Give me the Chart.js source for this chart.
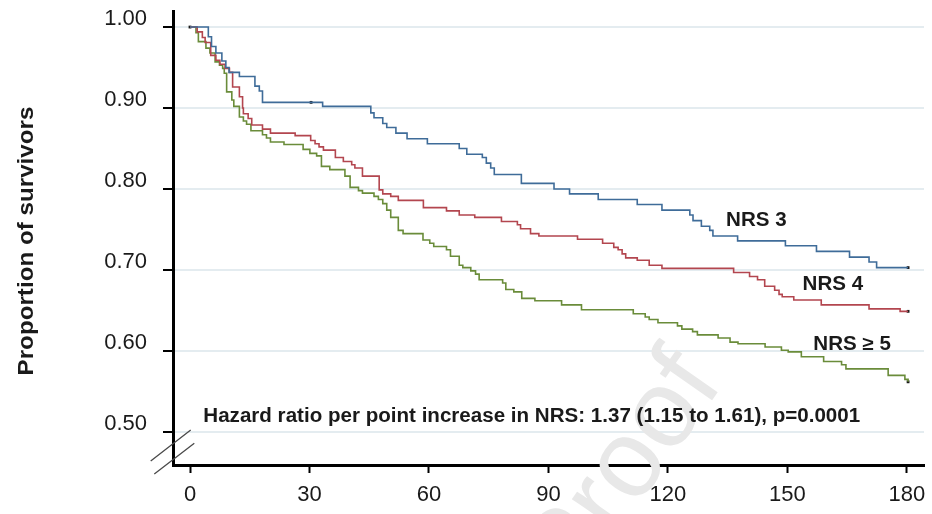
<!DOCTYPE html>
<html>
<head>
<meta charset="utf-8">
<script src="https://cdn.jsdelivr.net/npm/chart.js@4.4.1/dist/chart.umd.min.js"></script>
<style>
  html, body { margin: 0; padding: 0; background: #ffffff; }
  #wrap { width: 932px; height: 514px; }
</style>
</head>
<body>
<div id="wrap"><canvas id="c" width="932" height="514"></canvas></div>
<script>
// ---------- data ----------
const xTickValues = [0, 30, 60, 90, 120, 150, 180];
const yTickValues = [0.50, 0.60, 0.70, 0.80, 0.90, 1.00];

const nrs3Times = [0, 4.6, 5.4, 6.5, 8.0, 9.0, 9.8, 12.4, 16.3, 17.4, 18.2, 33.3, 45.4, 46.2, 48.4, 49.4, 51.7, 54.5, 59.6, 67.6, 69.5, 73.4, 74.4, 75.5, 76.4, 83.2, 91.4, 95.3, 102.5, 112.3, 118.5, 125.5, 126.3, 128.4, 130.5, 131.3, 137.5, 149.5, 157.3, 165.6, 170.5, 172.4, 180.3];
const nrs3Surv  = [1.000, 0.988, 0.976, 0.968, 0.958, 0.950, 0.944, 0.939, 0.927, 0.921, 0.907, 0.902, 0.894, 0.888, 0.881, 0.876, 0.869, 0.862, 0.856, 0.850, 0.843, 0.839, 0.832, 0.826, 0.818, 0.807, 0.800, 0.794, 0.787, 0.781, 0.774, 0.768, 0.761, 0.754, 0.749, 0.742, 0.736, 0.730, 0.723, 0.716, 0.710, 0.703, 0.703];

const nrs4Times = [0, 1.8, 3.1, 3.8, 5.2, 6.5, 7.5, 8.8, 9.9, 10.7, 12.4, 13.2, 13.4, 14.6, 15.5, 18.2, 20.2, 26.4, 30.3, 31.4, 32.4, 33.5, 36.5, 38.5, 40.6, 41.4, 43.3, 47.5, 48.4, 50.4, 52.3, 58.6, 64.4, 67.6, 71.5, 78.2, 82.2, 83.0, 85.5, 87.6, 97.3, 103.6, 106.4, 107.5, 108.5, 109.4, 112.3, 115.3, 118.5, 136.5, 140.5, 142.5, 144.3, 146.8, 147.9, 148.7, 151.6, 158.5, 170.5, 178.3, 180.3];
const nrs4Surv  = [1.000, 0.994, 0.987, 0.981, 0.965, 0.959, 0.954, 0.949, 0.944, 0.926, 0.914, 0.900, 0.893, 0.887, 0.879, 0.874, 0.869, 0.866, 0.860, 0.856, 0.852, 0.848, 0.839, 0.834, 0.830, 0.826, 0.816, 0.799, 0.794, 0.791, 0.786, 0.777, 0.773, 0.768, 0.765, 0.760, 0.756, 0.751, 0.745, 0.742, 0.738, 0.733, 0.728, 0.725, 0.720, 0.715, 0.712, 0.706, 0.702, 0.697, 0.692, 0.688, 0.680, 0.675, 0.670, 0.667, 0.663, 0.657, 0.652, 0.649, 0.649];

const nrs5Times = [0, 1.5, 2.1, 4.0, 5.0, 6.3, 7.4, 8.2, 8.6, 9.2, 10.5, 11.0, 12.4, 13.4, 14.2, 15.3, 18.2, 19.2, 20.2, 23.6, 28.4, 30.1, 31.8, 33.0, 35.1, 38.9, 40.2, 42.3, 43.3, 46.2, 47.3, 48.4, 49.4, 50.4, 52.3, 53.5, 58.5, 60.2, 61.2, 64.4, 65.4, 67.6, 68.5, 70.5, 71.7, 72.6, 78.5, 79.3, 81.3, 83.3, 86.6, 93.3, 98.3, 111.3, 114.3, 115.3, 117.5, 122.4, 123.5, 126.2, 127.4, 132.6, 135.6, 137.6, 144.4, 148.5, 150.2, 153.5, 159.1, 163.6, 164.7, 175.3, 179.5, 180.3];
const nrs5Surv  = [1.000, 0.993, 0.982, 0.974, 0.968, 0.957, 0.953, 0.949, 0.943, 0.920, 0.910, 0.902, 0.889, 0.884, 0.880, 0.872, 0.867, 0.863, 0.858, 0.855, 0.849, 0.844, 0.841, 0.828, 0.824, 0.816, 0.802, 0.798, 0.795, 0.791, 0.787, 0.782, 0.774, 0.765, 0.749, 0.745, 0.737, 0.733, 0.729, 0.725, 0.717, 0.706, 0.703, 0.699, 0.695, 0.688, 0.684, 0.676, 0.673, 0.665, 0.662, 0.657, 0.651, 0.646, 0.642, 0.639, 0.635, 0.631, 0.627, 0.624, 0.620, 0.616, 0.611, 0.609, 0.605, 0.601, 0.599, 0.593, 0.587, 0.583, 0.578, 0.570, 0.565, 0.562];

// censor / end marks
const markTimes = [0, 30.4, 180.3, 180.3, 180.3];
const markSurv  = [1.000, 0.907, 0.703, 0.649, 0.562];

// curve labels (text, time at left edge, survival at baseline)
const curveLabels = ['NRS 3', 'NRS 4', 'NRS \u2265 5'];
const curveLabelX = [134.6, 153.8, 156.5];
const curveLabelY = [0.7547, 0.6753, 0.6012];

const hazardText = 'Hazard ratio per point increase in NRS: 1.37 (1.15 to 1.61), p=0.0001';
const hazardX = 3.34;
const hazardY = 0.5127;

const yTitle = 'Proportion of survivors';
const watermark = 'Proof';

// ---------- styling ----------
const FONT = '"Liberation Sans", Arial, Helvetica, sans-serif';
const BLUE = '#3f6c99';
const RED = '#b3464f';
const GREEN = '#6a8c3a';

function pts(ts, vs) { return ts.map((t, i) => ({ x: t, y: vs[i] })); }

const decor = {
  id: 'decor',
  beforeDraw(chart) {
    const c = chart.ctx;
    c.save();
    c.fillStyle = '#ffffff';
    c.fillRect(0, 0, chart.width, chart.height);
    c.restore();
  },
  beforeDatasetsDraw(chart) {
    // faint watermark
    const c = chart.ctx;
    const xs = chart.scales.x, ys = chart.scales.y;
    c.save();
    c.translate(xs.getPixelForValue(134.1), ys.getPixelForValue(0.5604));
    c.rotate(-55 * Math.PI / 180);
    c.font = '110px ' + FONT;
    c.fillStyle = '#e8e8e8';
    c.textAlign = 'right';
    c.textBaseline = 'alphabetic';
    c.fillText(watermark, 0, 0);
    c.restore();
  },
  afterDatasetsDraw(chart) {
    const c = chart.ctx;
    const xs = chart.scales.x, ys = chart.scales.y;
    const ca = chart.chartArea;
    c.save();
    c.fillStyle = '#1a1a1a';
    c.textAlign = 'left';
    c.textBaseline = 'alphabetic';
    c.font = 'bold 19.5px ' + FONT;
    const sx = 1.055;
    curveLabels.forEach((t, i) => {
      c.save();
      c.translate(xs.getPixelForValue(curveLabelX[i]), ys.getPixelForValue(curveLabelY[i]));
      c.scale(sx, 1);
      c.fillText(t, 0, 0);
      c.restore();
    });
    c.save();
    c.translate(xs.getPixelForValue(hazardX), ys.getPixelForValue(hazardY));
    c.scale(sx, 1);
    c.fillText(hazardText, 0, 0);
    c.restore();

    // y axis title
    c.save();
    c.translate(32.5, (ca.top + ca.bottom) / 2 + 3);
    c.rotate(-Math.PI / 2);
    c.scale(1.1, 1);
    c.font = 'bold 22px ' + FONT;
    c.textAlign = 'center';
    c.fillText(yTitle, 0, 0);
    c.restore();

    // axis break marks
    c.strokeStyle = '#4a4a4a';
    c.lineWidth = 1.3;
    const L = ca.left, B = ca.bottom;
    c.beginPath();
    c.moveTo(L - 22.3, B - 4); c.lineTo(L + 17.7, B - 35);
    c.moveTo(L - 18.7, B + 9); c.lineTo(L + 21.3, B - 21.7);
    c.stroke();
    c.restore();
  }
};

const lineDs = (label, ts, vs, col) => ({
  type: 'line',
  label,
  data: pts(ts, vs),
  stepped: true,
  borderColor: col,
  borderWidth: 1.6,
  pointRadius: 0,
  fill: false,
  tension: 0
});

new Chart(document.getElementById('c'), {
  type: 'line',
  data: {
    datasets: [
      lineDs('NRS 3', nrs3Times, nrs3Surv, BLUE),
      lineDs('NRS 4', nrs4Times, nrs4Surv, RED),
      lineDs('NRS \u2265 5', nrs5Times, nrs5Surv, GREEN),
      {
        type: 'scatter',
        label: 'censored',
        data: pts(markTimes, markSurv),
        pointStyle: 'rect',
        pointRadius: 2,
        backgroundColor: '#1a1a1a',
        borderColor: '#1a1a1a',
        borderWidth: 0
      }
    ]
  },
  options: {
    responsive: false,
    animation: false,
    devicePixelRatio: 1,
    layout: { padding: { top: 11, right: 8, left: 0, bottom: 0 } },
    plugins: { legend: { display: false }, tooltip: { enabled: false } },
    scales: {
      x: {
        type: 'linear',
        min: -4.27,
        max: 184.3,
        afterBuildTicks: s => { s.ticks = xTickValues.map(v => ({ value: v })); },
        afterFit: s => { s.height = 49; s.paddingLeft = 0; s.paddingRight = 0; },
        grid: { drawOnChartArea: false, drawTicks: true, tickLength: 8, tickColor: '#000', tickWidth: 2 },
        border: { color: '#000', width: 3 },
        ticks: { color: '#1a1a1a', font: { family: FONT, size: 22 }, padding: 9, maxRotation: 0, autoSkip: false }
      },
      y: {
        type: 'linear',
        min: 0.4593,
        max: 1.0198,
        afterBuildTicks: s => { s.ticks = yTickValues.map(v => ({ value: v })); },
        afterFit: s => { s.width = 173; s.paddingTop = 0; s.paddingBottom = 0; },
        grid: { color: '#e4ecf0', lineWidth: 2, drawTicks: true, tickLength: 10, tickColor: '#000', tickWidth: 2 },
        border: { color: '#000', width: 3 },
        ticks: {
          color: '#1a1a1a',
          font: { family: FONT, size: 22 },
          padding: 16,
          labelOffset: -8,
          callback: v => Number(v).toFixed(2)
        }
      }
    }
  },
  plugins: [decor]
});
</script>
</body>
</html>
